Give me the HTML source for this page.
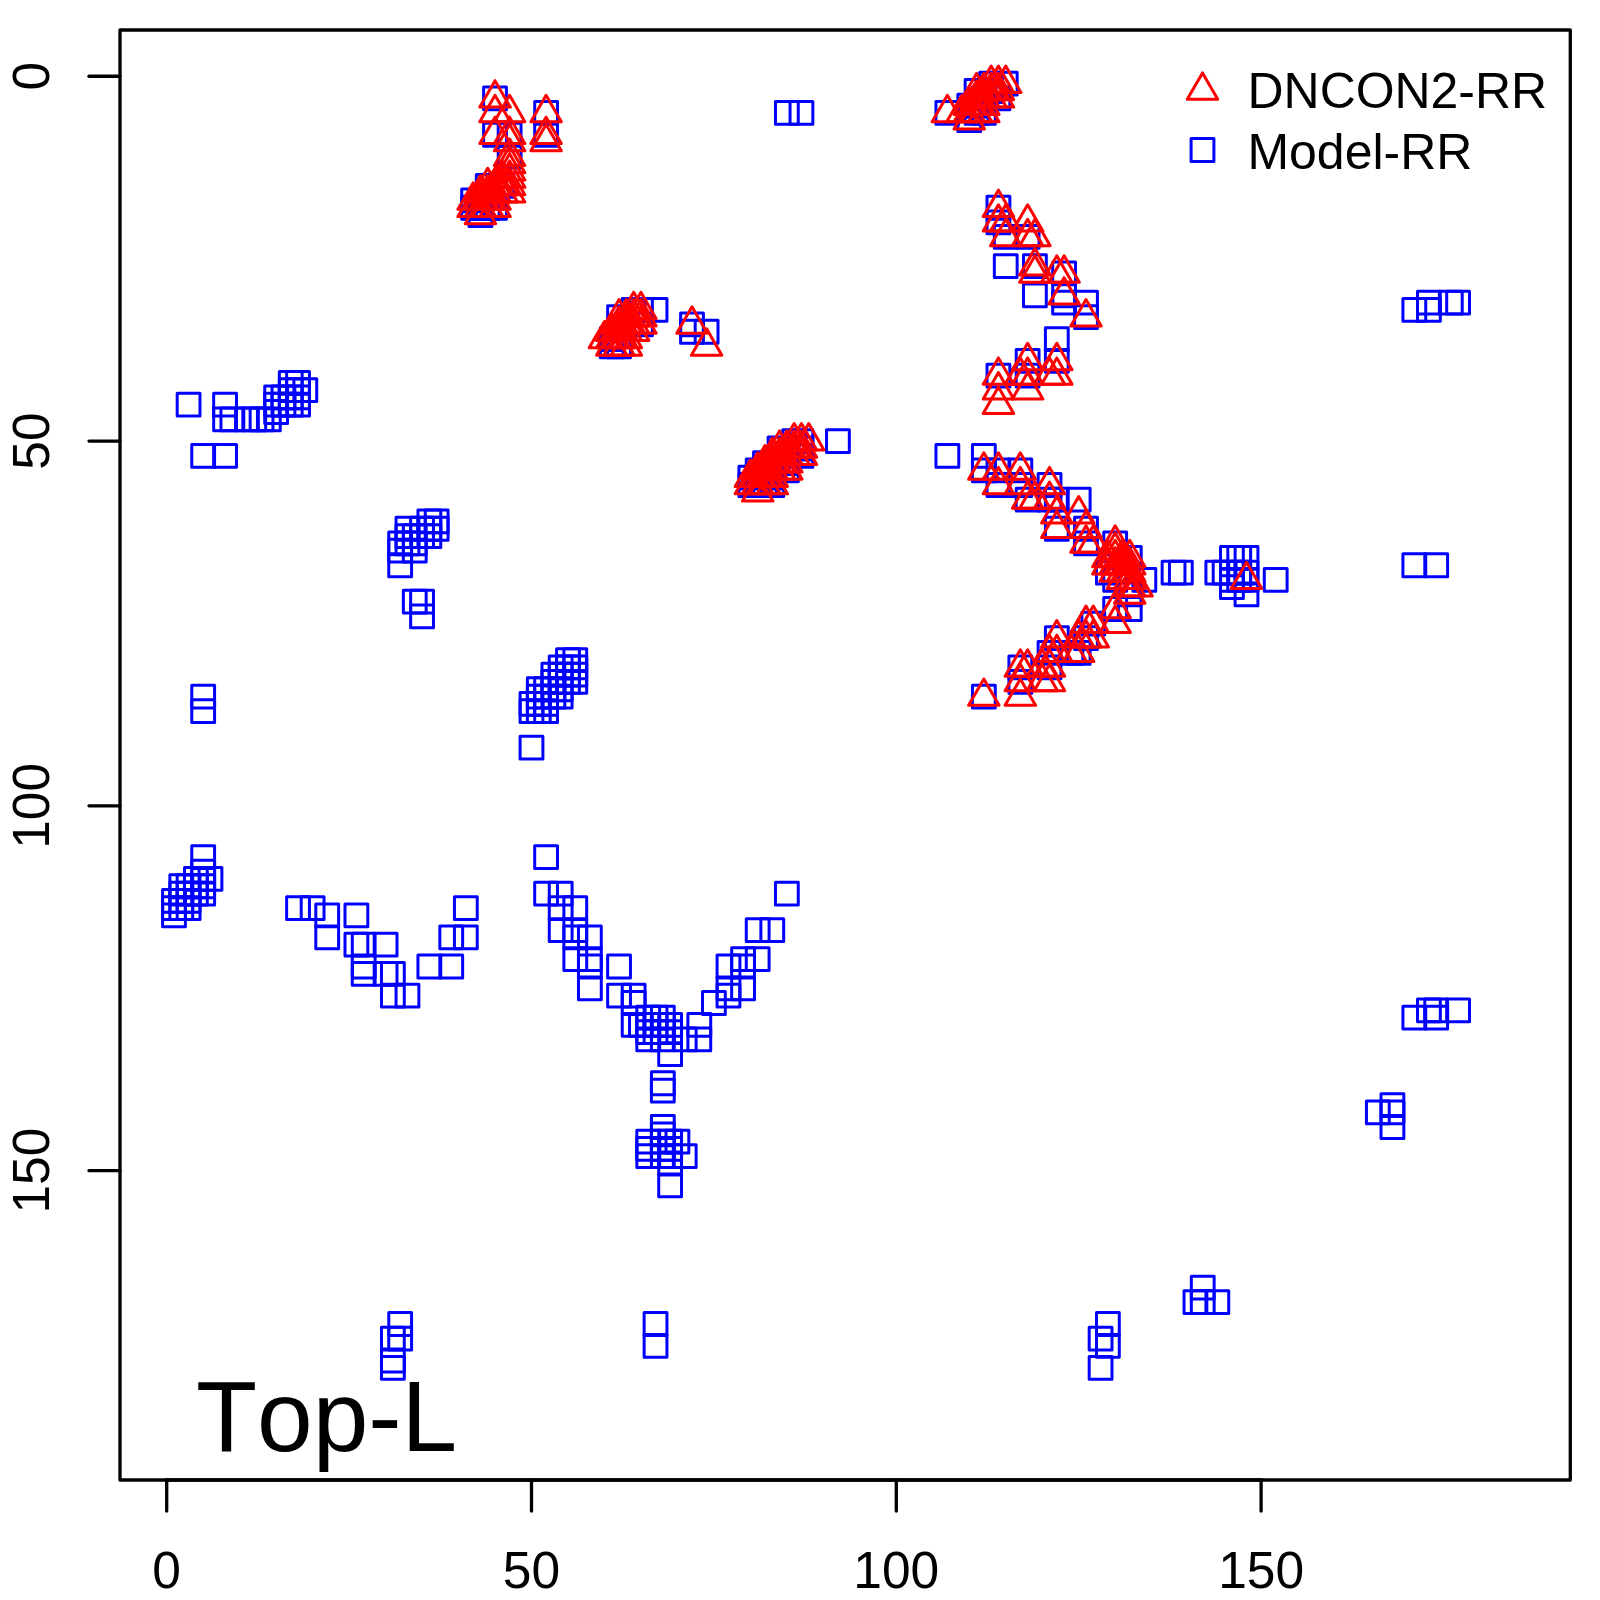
<!DOCTYPE html><html><head><meta charset="utf-8"><title>Top-L</title><style>html,body{margin:0;padding:0;background:#fff}svg{display:block}text{font-kerning:none;font-family:"Liberation Sans",sans-serif;fill:#000}</style></head><body>
<svg width="1600" height="1600" viewBox="0 0 1600 1600">
<rect width="1600" height="1600" fill="#fff"/>
<g fill="none" stroke="#0000ff" stroke-width="3.0" stroke-linejoin="round">
<rect x="979.75" y="72.30" width="22.8" height="22.8"/>
<rect x="994.34" y="72.30" width="22.8" height="22.8"/>
<rect x="965.16" y="79.59" width="22.8" height="22.8"/>
<rect x="979.75" y="79.59" width="22.8" height="22.8"/>
<rect x="483.62" y="86.89" width="22.8" height="22.8"/>
<rect x="972.45" y="86.89" width="22.8" height="22.8"/>
<rect x="987.04" y="86.89" width="22.8" height="22.8"/>
<rect x="957.86" y="94.18" width="22.8" height="22.8"/>
<rect x="965.16" y="94.18" width="22.8" height="22.8"/>
<rect x="534.69" y="101.48" width="22.8" height="22.8"/>
<rect x="775.46" y="101.48" width="22.8" height="22.8"/>
<rect x="790.05" y="101.48" width="22.8" height="22.8"/>
<rect x="935.97" y="101.48" width="22.8" height="22.8"/>
<rect x="965.16" y="101.48" width="22.8" height="22.8"/>
<rect x="972.45" y="101.48" width="22.8" height="22.8"/>
<rect x="957.86" y="108.78" width="22.8" height="22.8"/>
<rect x="483.62" y="123.37" width="22.8" height="22.8"/>
<rect x="498.21" y="123.37" width="22.8" height="22.8"/>
<rect x="534.69" y="123.37" width="22.8" height="22.8"/>
<rect x="498.21" y="145.26" width="22.8" height="22.8"/>
<rect x="476.32" y="174.44" width="22.8" height="22.8"/>
<rect x="490.92" y="174.44" width="22.8" height="22.8"/>
<rect x="461.73" y="189.03" width="22.8" height="22.8"/>
<rect x="461.73" y="196.33" width="22.8" height="22.8"/>
<rect x="469.03" y="196.33" width="22.8" height="22.8"/>
<rect x="476.32" y="196.33" width="22.8" height="22.8"/>
<rect x="483.62" y="196.33" width="22.8" height="22.8"/>
<rect x="987.04" y="196.33" width="22.8" height="22.8"/>
<rect x="469.03" y="203.62" width="22.8" height="22.8"/>
<rect x="987.04" y="210.92" width="22.8" height="22.8"/>
<rect x="994.34" y="225.51" width="22.8" height="22.8"/>
<rect x="1016.23" y="225.51" width="22.8" height="22.8"/>
<rect x="994.34" y="254.70" width="22.8" height="22.8"/>
<rect x="1023.52" y="254.70" width="22.8" height="22.8"/>
<rect x="1052.71" y="261.99" width="22.8" height="22.8"/>
<rect x="1023.52" y="283.88" width="22.8" height="22.8"/>
<rect x="1052.71" y="283.88" width="22.8" height="22.8"/>
<rect x="1052.71" y="291.18" width="22.8" height="22.8"/>
<rect x="1074.60" y="291.18" width="22.8" height="22.8"/>
<rect x="1417.51" y="291.18" width="22.8" height="22.8"/>
<rect x="1439.40" y="291.18" width="22.8" height="22.8"/>
<rect x="1446.69" y="291.18" width="22.8" height="22.8"/>
<rect x="622.24" y="298.47" width="22.8" height="22.8"/>
<rect x="629.54" y="298.47" width="22.8" height="22.8"/>
<rect x="644.13" y="298.47" width="22.8" height="22.8"/>
<rect x="1402.92" y="298.47" width="22.8" height="22.8"/>
<rect x="1417.51" y="298.47" width="22.8" height="22.8"/>
<rect x="607.65" y="305.77" width="22.8" height="22.8"/>
<rect x="1074.60" y="305.77" width="22.8" height="22.8"/>
<rect x="629.54" y="313.06" width="22.8" height="22.8"/>
<rect x="680.61" y="313.06" width="22.8" height="22.8"/>
<rect x="680.61" y="320.36" width="22.8" height="22.8"/>
<rect x="695.20" y="320.36" width="22.8" height="22.8"/>
<rect x="600.36" y="327.66" width="22.8" height="22.8"/>
<rect x="1045.41" y="327.66" width="22.8" height="22.8"/>
<rect x="600.36" y="334.95" width="22.8" height="22.8"/>
<rect x="607.65" y="334.95" width="22.8" height="22.8"/>
<rect x="1016.23" y="349.54" width="22.8" height="22.8"/>
<rect x="1045.41" y="349.54" width="22.8" height="22.8"/>
<rect x="987.04" y="364.14" width="22.8" height="22.8"/>
<rect x="1016.23" y="364.14" width="22.8" height="22.8"/>
<rect x="279.33" y="371.43" width="22.8" height="22.8"/>
<rect x="286.63" y="371.43" width="22.8" height="22.8"/>
<rect x="279.33" y="378.73" width="22.8" height="22.8"/>
<rect x="286.63" y="378.73" width="22.8" height="22.8"/>
<rect x="293.92" y="378.73" width="22.8" height="22.8"/>
<rect x="264.74" y="386.02" width="22.8" height="22.8"/>
<rect x="272.04" y="386.02" width="22.8" height="22.8"/>
<rect x="279.33" y="386.02" width="22.8" height="22.8"/>
<rect x="286.63" y="386.02" width="22.8" height="22.8"/>
<rect x="177.19" y="393.32" width="22.8" height="22.8"/>
<rect x="213.67" y="393.32" width="22.8" height="22.8"/>
<rect x="264.74" y="393.32" width="22.8" height="22.8"/>
<rect x="272.04" y="393.32" width="22.8" height="22.8"/>
<rect x="279.33" y="393.32" width="22.8" height="22.8"/>
<rect x="286.63" y="393.32" width="22.8" height="22.8"/>
<rect x="264.74" y="400.62" width="22.8" height="22.8"/>
<rect x="213.67" y="407.91" width="22.8" height="22.8"/>
<rect x="220.96" y="407.91" width="22.8" height="22.8"/>
<rect x="235.56" y="407.91" width="22.8" height="22.8"/>
<rect x="242.85" y="407.91" width="22.8" height="22.8"/>
<rect x="250.15" y="407.91" width="22.8" height="22.8"/>
<rect x="257.44" y="407.91" width="22.8" height="22.8"/>
<rect x="782.76" y="429.80" width="22.8" height="22.8"/>
<rect x="790.05" y="429.80" width="22.8" height="22.8"/>
<rect x="826.53" y="429.80" width="22.8" height="22.8"/>
<rect x="768.16" y="437.10" width="22.8" height="22.8"/>
<rect x="790.05" y="437.10" width="22.8" height="22.8"/>
<rect x="191.78" y="444.39" width="22.8" height="22.8"/>
<rect x="213.67" y="444.39" width="22.8" height="22.8"/>
<rect x="790.05" y="444.39" width="22.8" height="22.8"/>
<rect x="935.97" y="444.39" width="22.8" height="22.8"/>
<rect x="972.45" y="444.39" width="22.8" height="22.8"/>
<rect x="753.57" y="451.69" width="22.8" height="22.8"/>
<rect x="775.46" y="451.69" width="22.8" height="22.8"/>
<rect x="746.28" y="458.98" width="22.8" height="22.8"/>
<rect x="775.46" y="458.98" width="22.8" height="22.8"/>
<rect x="972.45" y="458.98" width="22.8" height="22.8"/>
<rect x="987.04" y="458.98" width="22.8" height="22.8"/>
<rect x="1008.93" y="458.98" width="22.8" height="22.8"/>
<rect x="738.98" y="466.28" width="22.8" height="22.8"/>
<rect x="760.87" y="466.28" width="22.8" height="22.8"/>
<rect x="738.98" y="473.58" width="22.8" height="22.8"/>
<rect x="746.28" y="473.58" width="22.8" height="22.8"/>
<rect x="753.57" y="473.58" width="22.8" height="22.8"/>
<rect x="760.87" y="473.58" width="22.8" height="22.8"/>
<rect x="987.04" y="473.58" width="22.8" height="22.8"/>
<rect x="1008.93" y="473.58" width="22.8" height="22.8"/>
<rect x="1038.12" y="473.58" width="22.8" height="22.8"/>
<rect x="1016.23" y="488.17" width="22.8" height="22.8"/>
<rect x="1038.12" y="488.17" width="22.8" height="22.8"/>
<rect x="1045.41" y="488.17" width="22.8" height="22.8"/>
<rect x="1067.30" y="488.17" width="22.8" height="22.8"/>
<rect x="417.96" y="510.06" width="22.8" height="22.8"/>
<rect x="425.25" y="510.06" width="22.8" height="22.8"/>
<rect x="396.07" y="517.35" width="22.8" height="22.8"/>
<rect x="410.66" y="517.35" width="22.8" height="22.8"/>
<rect x="417.96" y="517.35" width="22.8" height="22.8"/>
<rect x="425.25" y="517.35" width="22.8" height="22.8"/>
<rect x="1045.41" y="517.35" width="22.8" height="22.8"/>
<rect x="1074.60" y="517.35" width="22.8" height="22.8"/>
<rect x="396.07" y="524.65" width="22.8" height="22.8"/>
<rect x="403.36" y="524.65" width="22.8" height="22.8"/>
<rect x="410.66" y="524.65" width="22.8" height="22.8"/>
<rect x="417.96" y="524.65" width="22.8" height="22.8"/>
<rect x="388.77" y="531.94" width="22.8" height="22.8"/>
<rect x="396.07" y="531.94" width="22.8" height="22.8"/>
<rect x="403.36" y="531.94" width="22.8" height="22.8"/>
<rect x="1074.60" y="531.94" width="22.8" height="22.8"/>
<rect x="1103.78" y="531.94" width="22.8" height="22.8"/>
<rect x="388.77" y="539.24" width="22.8" height="22.8"/>
<rect x="403.36" y="539.24" width="22.8" height="22.8"/>
<rect x="1118.37" y="546.54" width="22.8" height="22.8"/>
<rect x="1220.52" y="546.54" width="22.8" height="22.8"/>
<rect x="1227.81" y="546.54" width="22.8" height="22.8"/>
<rect x="1235.11" y="546.54" width="22.8" height="22.8"/>
<rect x="388.77" y="553.83" width="22.8" height="22.8"/>
<rect x="1402.92" y="553.83" width="22.8" height="22.8"/>
<rect x="1424.80" y="553.83" width="22.8" height="22.8"/>
<rect x="1096.48" y="561.13" width="22.8" height="22.8"/>
<rect x="1162.15" y="561.13" width="22.8" height="22.8"/>
<rect x="1169.44" y="561.13" width="22.8" height="22.8"/>
<rect x="1205.92" y="561.13" width="22.8" height="22.8"/>
<rect x="1213.22" y="561.13" width="22.8" height="22.8"/>
<rect x="1220.52" y="561.13" width="22.8" height="22.8"/>
<rect x="1227.81" y="561.13" width="22.8" height="22.8"/>
<rect x="1235.11" y="561.13" width="22.8" height="22.8"/>
<rect x="1103.78" y="568.42" width="22.8" height="22.8"/>
<rect x="1132.96" y="568.42" width="22.8" height="22.8"/>
<rect x="1220.52" y="568.42" width="22.8" height="22.8"/>
<rect x="1227.81" y="568.42" width="22.8" height="22.8"/>
<rect x="1235.11" y="568.42" width="22.8" height="22.8"/>
<rect x="1264.29" y="568.42" width="22.8" height="22.8"/>
<rect x="1220.52" y="575.72" width="22.8" height="22.8"/>
<rect x="1118.37" y="583.02" width="22.8" height="22.8"/>
<rect x="1235.11" y="583.02" width="22.8" height="22.8"/>
<rect x="403.36" y="590.31" width="22.8" height="22.8"/>
<rect x="410.66" y="590.31" width="22.8" height="22.8"/>
<rect x="1103.78" y="597.61" width="22.8" height="22.8"/>
<rect x="1118.37" y="597.61" width="22.8" height="22.8"/>
<rect x="410.66" y="604.90" width="22.8" height="22.8"/>
<rect x="1081.89" y="612.20" width="22.8" height="22.8"/>
<rect x="1045.41" y="626.79" width="22.8" height="22.8"/>
<rect x="1074.60" y="626.79" width="22.8" height="22.8"/>
<rect x="1038.12" y="641.38" width="22.8" height="22.8"/>
<rect x="1060.00" y="641.38" width="22.8" height="22.8"/>
<rect x="1067.30" y="641.38" width="22.8" height="22.8"/>
<rect x="556.58" y="648.68" width="22.8" height="22.8"/>
<rect x="563.88" y="648.68" width="22.8" height="22.8"/>
<rect x="549.28" y="655.98" width="22.8" height="22.8"/>
<rect x="556.58" y="655.98" width="22.8" height="22.8"/>
<rect x="563.88" y="655.98" width="22.8" height="22.8"/>
<rect x="1008.93" y="655.98" width="22.8" height="22.8"/>
<rect x="1038.12" y="655.98" width="22.8" height="22.8"/>
<rect x="541.99" y="663.27" width="22.8" height="22.8"/>
<rect x="549.28" y="663.27" width="22.8" height="22.8"/>
<rect x="556.58" y="663.27" width="22.8" height="22.8"/>
<rect x="563.88" y="663.27" width="22.8" height="22.8"/>
<rect x="541.99" y="670.57" width="22.8" height="22.8"/>
<rect x="549.28" y="670.57" width="22.8" height="22.8"/>
<rect x="556.58" y="670.57" width="22.8" height="22.8"/>
<rect x="563.88" y="670.57" width="22.8" height="22.8"/>
<rect x="1008.93" y="670.57" width="22.8" height="22.8"/>
<rect x="527.40" y="677.86" width="22.8" height="22.8"/>
<rect x="534.69" y="677.86" width="22.8" height="22.8"/>
<rect x="541.99" y="677.86" width="22.8" height="22.8"/>
<rect x="549.28" y="677.86" width="22.8" height="22.8"/>
<rect x="191.78" y="685.16" width="22.8" height="22.8"/>
<rect x="527.40" y="685.16" width="22.8" height="22.8"/>
<rect x="534.69" y="685.16" width="22.8" height="22.8"/>
<rect x="541.99" y="685.16" width="22.8" height="22.8"/>
<rect x="549.28" y="685.16" width="22.8" height="22.8"/>
<rect x="972.45" y="685.16" width="22.8" height="22.8"/>
<rect x="520.10" y="692.46" width="22.8" height="22.8"/>
<rect x="527.40" y="692.46" width="22.8" height="22.8"/>
<rect x="534.69" y="692.46" width="22.8" height="22.8"/>
<rect x="191.78" y="699.75" width="22.8" height="22.8"/>
<rect x="520.10" y="699.75" width="22.8" height="22.8"/>
<rect x="527.40" y="699.75" width="22.8" height="22.8"/>
<rect x="534.69" y="699.75" width="22.8" height="22.8"/>
<rect x="520.10" y="736.23" width="22.8" height="22.8"/>
<rect x="191.78" y="845.67" width="22.8" height="22.8"/>
<rect x="534.69" y="845.67" width="22.8" height="22.8"/>
<rect x="191.78" y="860.26" width="22.8" height="22.8"/>
<rect x="184.48" y="867.56" width="22.8" height="22.8"/>
<rect x="191.78" y="867.56" width="22.8" height="22.8"/>
<rect x="199.08" y="867.56" width="22.8" height="22.8"/>
<rect x="169.89" y="874.86" width="22.8" height="22.8"/>
<rect x="177.19" y="874.86" width="22.8" height="22.8"/>
<rect x="184.48" y="874.86" width="22.8" height="22.8"/>
<rect x="191.78" y="874.86" width="22.8" height="22.8"/>
<rect x="169.89" y="882.15" width="22.8" height="22.8"/>
<rect x="177.19" y="882.15" width="22.8" height="22.8"/>
<rect x="184.48" y="882.15" width="22.8" height="22.8"/>
<rect x="191.78" y="882.15" width="22.8" height="22.8"/>
<rect x="534.69" y="882.15" width="22.8" height="22.8"/>
<rect x="549.28" y="882.15" width="22.8" height="22.8"/>
<rect x="775.46" y="882.15" width="22.8" height="22.8"/>
<rect x="162.60" y="889.45" width="22.8" height="22.8"/>
<rect x="169.89" y="889.45" width="22.8" height="22.8"/>
<rect x="177.19" y="889.45" width="22.8" height="22.8"/>
<rect x="162.60" y="896.74" width="22.8" height="22.8"/>
<rect x="169.89" y="896.74" width="22.8" height="22.8"/>
<rect x="177.19" y="896.74" width="22.8" height="22.8"/>
<rect x="286.63" y="896.74" width="22.8" height="22.8"/>
<rect x="301.22" y="896.74" width="22.8" height="22.8"/>
<rect x="454.44" y="896.74" width="22.8" height="22.8"/>
<rect x="549.28" y="896.74" width="22.8" height="22.8"/>
<rect x="563.88" y="896.74" width="22.8" height="22.8"/>
<rect x="162.60" y="904.04" width="22.8" height="22.8"/>
<rect x="315.81" y="904.04" width="22.8" height="22.8"/>
<rect x="345.00" y="904.04" width="22.8" height="22.8"/>
<rect x="549.28" y="918.63" width="22.8" height="22.8"/>
<rect x="563.88" y="918.63" width="22.8" height="22.8"/>
<rect x="746.28" y="918.63" width="22.8" height="22.8"/>
<rect x="760.87" y="918.63" width="22.8" height="22.8"/>
<rect x="315.81" y="925.93" width="22.8" height="22.8"/>
<rect x="439.84" y="925.93" width="22.8" height="22.8"/>
<rect x="454.44" y="925.93" width="22.8" height="22.8"/>
<rect x="563.88" y="925.93" width="22.8" height="22.8"/>
<rect x="578.47" y="925.93" width="22.8" height="22.8"/>
<rect x="345.00" y="933.22" width="22.8" height="22.8"/>
<rect x="352.29" y="933.22" width="22.8" height="22.8"/>
<rect x="374.18" y="933.22" width="22.8" height="22.8"/>
<rect x="563.88" y="947.82" width="22.8" height="22.8"/>
<rect x="578.47" y="947.82" width="22.8" height="22.8"/>
<rect x="731.68" y="947.82" width="22.8" height="22.8"/>
<rect x="746.28" y="947.82" width="22.8" height="22.8"/>
<rect x="352.29" y="955.11" width="22.8" height="22.8"/>
<rect x="417.96" y="955.11" width="22.8" height="22.8"/>
<rect x="439.84" y="955.11" width="22.8" height="22.8"/>
<rect x="578.47" y="955.11" width="22.8" height="22.8"/>
<rect x="607.65" y="955.11" width="22.8" height="22.8"/>
<rect x="717.09" y="955.11" width="22.8" height="22.8"/>
<rect x="731.68" y="955.11" width="22.8" height="22.8"/>
<rect x="352.29" y="962.41" width="22.8" height="22.8"/>
<rect x="374.18" y="962.41" width="22.8" height="22.8"/>
<rect x="381.48" y="962.41" width="22.8" height="22.8"/>
<rect x="578.47" y="977.00" width="22.8" height="22.8"/>
<rect x="717.09" y="977.00" width="22.8" height="22.8"/>
<rect x="731.68" y="977.00" width="22.8" height="22.8"/>
<rect x="381.48" y="984.30" width="22.8" height="22.8"/>
<rect x="396.07" y="984.30" width="22.8" height="22.8"/>
<rect x="607.65" y="984.30" width="22.8" height="22.8"/>
<rect x="622.24" y="984.30" width="22.8" height="22.8"/>
<rect x="717.09" y="984.30" width="22.8" height="22.8"/>
<rect x="622.24" y="991.59" width="22.8" height="22.8"/>
<rect x="702.50" y="991.59" width="22.8" height="22.8"/>
<rect x="1417.51" y="998.89" width="22.8" height="22.8"/>
<rect x="1424.80" y="998.89" width="22.8" height="22.8"/>
<rect x="1446.69" y="998.89" width="22.8" height="22.8"/>
<rect x="636.84" y="1006.18" width="22.8" height="22.8"/>
<rect x="644.13" y="1006.18" width="22.8" height="22.8"/>
<rect x="651.43" y="1006.18" width="22.8" height="22.8"/>
<rect x="1402.92" y="1006.18" width="22.8" height="22.8"/>
<rect x="1424.80" y="1006.18" width="22.8" height="22.8"/>
<rect x="622.24" y="1013.48" width="22.8" height="22.8"/>
<rect x="629.54" y="1013.48" width="22.8" height="22.8"/>
<rect x="636.84" y="1013.48" width="22.8" height="22.8"/>
<rect x="644.13" y="1013.48" width="22.8" height="22.8"/>
<rect x="651.43" y="1013.48" width="22.8" height="22.8"/>
<rect x="658.72" y="1013.48" width="22.8" height="22.8"/>
<rect x="687.91" y="1013.48" width="22.8" height="22.8"/>
<rect x="636.84" y="1020.78" width="22.8" height="22.8"/>
<rect x="644.13" y="1020.78" width="22.8" height="22.8"/>
<rect x="651.43" y="1020.78" width="22.8" height="22.8"/>
<rect x="658.72" y="1020.78" width="22.8" height="22.8"/>
<rect x="636.84" y="1028.07" width="22.8" height="22.8"/>
<rect x="651.43" y="1028.07" width="22.8" height="22.8"/>
<rect x="673.32" y="1028.07" width="22.8" height="22.8"/>
<rect x="687.91" y="1028.07" width="22.8" height="22.8"/>
<rect x="658.72" y="1042.66" width="22.8" height="22.8"/>
<rect x="651.43" y="1071.85" width="22.8" height="22.8"/>
<rect x="651.43" y="1079.14" width="22.8" height="22.8"/>
<rect x="1381.03" y="1093.74" width="22.8" height="22.8"/>
<rect x="1366.44" y="1101.03" width="22.8" height="22.8"/>
<rect x="1381.03" y="1101.03" width="22.8" height="22.8"/>
<rect x="651.43" y="1115.62" width="22.8" height="22.8"/>
<rect x="1381.03" y="1115.62" width="22.8" height="22.8"/>
<rect x="651.43" y="1122.92" width="22.8" height="22.8"/>
<rect x="636.84" y="1130.22" width="22.8" height="22.8"/>
<rect x="651.43" y="1130.22" width="22.8" height="22.8"/>
<rect x="658.72" y="1130.22" width="22.8" height="22.8"/>
<rect x="666.02" y="1130.22" width="22.8" height="22.8"/>
<rect x="636.84" y="1137.51" width="22.8" height="22.8"/>
<rect x="651.43" y="1137.51" width="22.8" height="22.8"/>
<rect x="658.72" y="1137.51" width="22.8" height="22.8"/>
<rect x="636.84" y="1144.81" width="22.8" height="22.8"/>
<rect x="651.43" y="1144.81" width="22.8" height="22.8"/>
<rect x="658.72" y="1144.81" width="22.8" height="22.8"/>
<rect x="673.32" y="1144.81" width="22.8" height="22.8"/>
<rect x="658.72" y="1152.10" width="22.8" height="22.8"/>
<rect x="658.72" y="1173.99" width="22.8" height="22.8"/>
<rect x="1191.33" y="1276.14" width="22.8" height="22.8"/>
<rect x="1184.04" y="1290.73" width="22.8" height="22.8"/>
<rect x="1191.33" y="1290.73" width="22.8" height="22.8"/>
<rect x="1205.92" y="1290.73" width="22.8" height="22.8"/>
<rect x="388.77" y="1312.62" width="22.8" height="22.8"/>
<rect x="644.13" y="1312.62" width="22.8" height="22.8"/>
<rect x="1096.48" y="1312.62" width="22.8" height="22.8"/>
<rect x="381.48" y="1327.21" width="22.8" height="22.8"/>
<rect x="388.77" y="1327.21" width="22.8" height="22.8"/>
<rect x="1089.19" y="1327.21" width="22.8" height="22.8"/>
<rect x="644.13" y="1334.50" width="22.8" height="22.8"/>
<rect x="1096.48" y="1334.50" width="22.8" height="22.8"/>
<rect x="381.48" y="1349.10" width="22.8" height="22.8"/>
<rect x="381.48" y="1356.39" width="22.8" height="22.8"/>
<rect x="1089.19" y="1356.39" width="22.8" height="22.8"/>
</g>
<g fill="none" stroke="#ff0000" stroke-width="3.0" stroke-linejoin="round">
<path d="M991.15 66.10L1006.39 92.50L975.91 92.50Z"/>
<path d="M998.44 66.10L1013.69 92.50L983.20 92.50Z"/>
<path d="M1005.74 66.10L1020.98 92.50L990.50 92.50Z"/>
<path d="M976.56 73.39L991.80 99.79L961.31 99.79Z"/>
<path d="M983.85 73.39L999.09 99.79L968.61 99.79Z"/>
<path d="M991.15 73.39L1006.39 99.79L975.91 99.79Z"/>
<path d="M998.44 73.39L1013.69 99.79L983.20 99.79Z"/>
<path d="M495.02 80.69L510.26 107.09L479.78 107.09Z"/>
<path d="M976.56 80.69L991.80 107.09L961.31 107.09Z"/>
<path d="M983.85 80.69L999.09 107.09L968.61 107.09Z"/>
<path d="M991.15 80.69L1006.39 107.09L975.91 107.09Z"/>
<path d="M998.44 80.69L1013.69 107.09L983.20 107.09Z"/>
<path d="M969.26 87.98L984.50 114.38L954.02 114.38Z"/>
<path d="M976.56 87.98L991.80 114.38L961.31 114.38Z"/>
<path d="M983.85 87.98L999.09 114.38L968.61 114.38Z"/>
<path d="M495.02 95.28L510.26 121.68L479.78 121.68Z"/>
<path d="M509.61 95.28L524.85 121.68L494.37 121.68Z"/>
<path d="M546.09 95.28L561.33 121.68L530.85 121.68Z"/>
<path d="M947.37 95.28L962.61 121.68L932.13 121.68Z"/>
<path d="M961.96 95.28L977.21 121.68L946.72 121.68Z"/>
<path d="M969.26 95.28L984.50 121.68L954.02 121.68Z"/>
<path d="M976.56 95.28L991.80 121.68L961.31 121.68Z"/>
<path d="M983.85 95.28L999.09 121.68L968.61 121.68Z"/>
<path d="M969.26 102.58L984.50 128.98L954.02 128.98Z"/>
<path d="M495.02 117.17L510.26 143.57L479.78 143.57Z"/>
<path d="M509.61 117.17L524.85 143.57L494.37 143.57Z"/>
<path d="M546.09 117.17L561.33 143.57L530.85 143.57Z"/>
<path d="M509.61 124.46L524.85 150.86L494.37 150.86Z"/>
<path d="M546.09 124.46L561.33 150.86L530.85 150.86Z"/>
<path d="M509.61 139.06L524.85 165.46L494.37 165.46Z"/>
<path d="M509.61 146.35L524.85 172.75L494.37 172.75Z"/>
<path d="M509.61 153.65L524.85 180.05L494.37 180.05Z"/>
<path d="M502.32 160.94L517.56 187.34L487.07 187.34Z"/>
<path d="M509.61 160.94L524.85 187.34L494.37 187.34Z"/>
<path d="M487.72 168.24L502.97 194.64L472.48 194.64Z"/>
<path d="M495.02 168.24L510.26 194.64L479.78 194.64Z"/>
<path d="M502.32 168.24L517.56 194.64L487.07 194.64Z"/>
<path d="M509.61 168.24L524.85 194.64L494.37 194.64Z"/>
<path d="M480.43 175.54L495.67 201.94L465.19 201.94Z"/>
<path d="M487.72 175.54L502.97 201.94L472.48 201.94Z"/>
<path d="M495.02 175.54L510.26 201.94L479.78 201.94Z"/>
<path d="M502.32 175.54L517.56 201.94L487.07 201.94Z"/>
<path d="M509.61 175.54L524.85 201.94L494.37 201.94Z"/>
<path d="M473.13 182.83L488.37 209.23L457.89 209.23Z"/>
<path d="M480.43 182.83L495.67 209.23L465.19 209.23Z"/>
<path d="M487.72 182.83L502.97 209.23L472.48 209.23Z"/>
<path d="M495.02 182.83L510.26 209.23L479.78 209.23Z"/>
<path d="M473.13 190.13L488.37 216.53L457.89 216.53Z"/>
<path d="M480.43 190.13L495.67 216.53L465.19 216.53Z"/>
<path d="M487.72 190.13L502.97 216.53L472.48 216.53Z"/>
<path d="M495.02 190.13L510.26 216.53L479.78 216.53Z"/>
<path d="M998.44 190.13L1013.69 216.53L983.20 216.53Z"/>
<path d="M480.43 197.42L495.67 223.82L465.19 223.82Z"/>
<path d="M998.44 204.72L1013.69 231.12L983.20 231.12Z"/>
<path d="M1005.74 204.72L1020.98 231.12L990.50 231.12Z"/>
<path d="M1027.63 204.72L1042.87 231.12L1012.39 231.12Z"/>
<path d="M1005.74 219.31L1020.98 245.71L990.50 245.71Z"/>
<path d="M1027.63 219.31L1042.87 245.71L1012.39 245.71Z"/>
<path d="M1034.92 219.31L1050.17 245.71L1019.68 245.71Z"/>
<path d="M1034.92 248.50L1050.17 274.90L1019.68 274.90Z"/>
<path d="M1034.92 255.79L1050.17 282.19L1019.68 282.19Z"/>
<path d="M1056.81 255.79L1072.05 282.19L1041.57 282.19Z"/>
<path d="M1064.11 255.79L1079.35 282.19L1048.87 282.19Z"/>
<path d="M1064.11 277.68L1079.35 304.08L1048.87 304.08Z"/>
<path d="M633.64 292.27L648.89 318.67L618.40 318.67Z"/>
<path d="M640.94 292.27L656.18 318.67L625.70 318.67Z"/>
<path d="M619.05 299.57L634.29 325.97L603.81 325.97Z"/>
<path d="M626.35 299.57L641.59 325.97L611.11 325.97Z"/>
<path d="M633.64 299.57L648.89 325.97L618.40 325.97Z"/>
<path d="M640.94 299.57L656.18 325.97L625.70 325.97Z"/>
<path d="M1086.00 299.57L1101.24 325.97L1070.75 325.97Z"/>
<path d="M619.05 306.86L634.29 333.26L603.81 333.26Z"/>
<path d="M626.35 306.86L641.59 333.26L611.11 333.26Z"/>
<path d="M633.64 306.86L648.89 333.26L618.40 333.26Z"/>
<path d="M640.94 306.86L656.18 333.26L625.70 333.26Z"/>
<path d="M692.01 306.86L707.25 333.26L676.77 333.26Z"/>
<path d="M611.76 314.16L627.00 340.56L596.51 340.56Z"/>
<path d="M619.05 314.16L634.29 340.56L603.81 340.56Z"/>
<path d="M626.35 314.16L641.59 340.56L611.11 340.56Z"/>
<path d="M633.64 314.16L648.89 340.56L618.40 340.56Z"/>
<path d="M604.46 321.46L619.70 347.86L589.22 347.86Z"/>
<path d="M611.76 321.46L627.00 347.86L596.51 347.86Z"/>
<path d="M619.05 321.46L634.29 347.86L603.81 347.86Z"/>
<path d="M626.35 321.46L641.59 347.86L611.11 347.86Z"/>
<path d="M611.76 328.75L627.00 355.15L596.51 355.15Z"/>
<path d="M619.05 328.75L634.29 355.15L603.81 355.15Z"/>
<path d="M626.35 328.75L641.59 355.15L611.11 355.15Z"/>
<path d="M706.60 328.75L721.85 355.15L691.36 355.15Z"/>
<path d="M1027.63 343.34L1042.87 369.74L1012.39 369.74Z"/>
<path d="M1056.81 343.34L1072.05 369.74L1041.57 369.74Z"/>
<path d="M998.44 357.94L1013.69 384.34L983.20 384.34Z"/>
<path d="M1020.33 357.94L1035.57 384.34L1005.09 384.34Z"/>
<path d="M1027.63 357.94L1042.87 384.34L1012.39 384.34Z"/>
<path d="M1049.52 357.94L1064.76 384.34L1034.27 384.34Z"/>
<path d="M1056.81 357.94L1072.05 384.34L1041.57 384.34Z"/>
<path d="M998.44 372.53L1013.69 398.93L983.20 398.93Z"/>
<path d="M1027.63 372.53L1042.87 398.93L1012.39 398.93Z"/>
<path d="M998.44 387.12L1013.69 413.52L983.20 413.52Z"/>
<path d="M794.16 423.60L809.40 450.00L778.91 450.00Z"/>
<path d="M801.45 423.60L816.69 450.00L786.21 450.00Z"/>
<path d="M808.75 423.60L823.99 450.00L793.51 450.00Z"/>
<path d="M779.56 430.90L794.81 457.30L764.32 457.30Z"/>
<path d="M786.86 430.90L802.10 457.30L771.62 457.30Z"/>
<path d="M794.16 430.90L809.40 457.30L778.91 457.30Z"/>
<path d="M801.45 430.90L816.69 457.30L786.21 457.30Z"/>
<path d="M772.27 438.19L787.51 464.59L757.03 464.59Z"/>
<path d="M779.56 438.19L794.81 464.59L764.32 464.59Z"/>
<path d="M786.86 438.19L802.10 464.59L771.62 464.59Z"/>
<path d="M794.16 438.19L809.40 464.59L778.91 464.59Z"/>
<path d="M801.45 438.19L816.69 464.59L786.21 464.59Z"/>
<path d="M764.97 445.49L780.21 471.89L749.73 471.89Z"/>
<path d="M772.27 445.49L787.51 471.89L757.03 471.89Z"/>
<path d="M779.56 445.49L794.81 471.89L764.32 471.89Z"/>
<path d="M786.86 445.49L802.10 471.89L771.62 471.89Z"/>
<path d="M757.68 452.78L772.92 479.18L742.43 479.18Z"/>
<path d="M764.97 452.78L780.21 479.18L749.73 479.18Z"/>
<path d="M772.27 452.78L787.51 479.18L757.03 479.18Z"/>
<path d="M779.56 452.78L794.81 479.18L764.32 479.18Z"/>
<path d="M786.86 452.78L802.10 479.18L771.62 479.18Z"/>
<path d="M983.85 452.78L999.09 479.18L968.61 479.18Z"/>
<path d="M998.44 452.78L1013.69 479.18L983.20 479.18Z"/>
<path d="M1020.33 452.78L1035.57 479.18L1005.09 479.18Z"/>
<path d="M750.38 460.08L765.62 486.48L735.14 486.48Z"/>
<path d="M757.68 460.08L772.92 486.48L742.43 486.48Z"/>
<path d="M764.97 460.08L780.21 486.48L749.73 486.48Z"/>
<path d="M772.27 460.08L787.51 486.48L757.03 486.48Z"/>
<path d="M750.38 467.38L765.62 493.78L735.14 493.78Z"/>
<path d="M757.68 467.38L772.92 493.78L742.43 493.78Z"/>
<path d="M764.97 467.38L780.21 493.78L749.73 493.78Z"/>
<path d="M772.27 467.38L787.51 493.78L757.03 493.78Z"/>
<path d="M998.44 467.38L1013.69 493.78L983.20 493.78Z"/>
<path d="M1020.33 467.38L1035.57 493.78L1005.09 493.78Z"/>
<path d="M1049.52 467.38L1064.76 493.78L1034.27 493.78Z"/>
<path d="M757.68 474.67L772.92 501.07L742.43 501.07Z"/>
<path d="M1027.63 481.97L1042.87 508.37L1012.39 508.37Z"/>
<path d="M1034.92 481.97L1050.17 508.37L1019.68 508.37Z"/>
<path d="M1049.52 481.97L1064.76 508.37L1034.27 508.37Z"/>
<path d="M1056.81 496.56L1072.05 522.96L1041.57 522.96Z"/>
<path d="M1078.70 496.56L1093.94 522.96L1063.46 522.96Z"/>
<path d="M1056.81 511.15L1072.05 537.55L1041.57 537.55Z"/>
<path d="M1086.00 511.15L1101.24 537.55L1070.75 537.55Z"/>
<path d="M1086.00 525.74L1101.24 552.14L1070.75 552.14Z"/>
<path d="M1093.29 525.74L1108.53 552.14L1078.05 552.14Z"/>
<path d="M1115.18 525.74L1130.42 552.14L1099.94 552.14Z"/>
<path d="M1115.18 533.04L1130.42 559.44L1099.94 559.44Z"/>
<path d="M1107.88 540.34L1123.13 566.74L1092.64 566.74Z"/>
<path d="M1115.18 540.34L1130.42 566.74L1099.94 566.74Z"/>
<path d="M1122.48 540.34L1137.72 566.74L1107.23 566.74Z"/>
<path d="M1129.77 540.34L1145.01 566.74L1114.53 566.74Z"/>
<path d="M1107.88 547.63L1123.13 574.03L1092.64 574.03Z"/>
<path d="M1115.18 547.63L1130.42 574.03L1099.94 574.03Z"/>
<path d="M1122.48 547.63L1137.72 574.03L1107.23 574.03Z"/>
<path d="M1129.77 547.63L1145.01 574.03L1114.53 574.03Z"/>
<path d="M1115.18 554.93L1130.42 581.33L1099.94 581.33Z"/>
<path d="M1122.48 554.93L1137.72 581.33L1107.23 581.33Z"/>
<path d="M1129.77 554.93L1145.01 581.33L1114.53 581.33Z"/>
<path d="M1122.48 562.22L1137.72 588.62L1107.23 588.62Z"/>
<path d="M1129.77 562.22L1145.01 588.62L1114.53 588.62Z"/>
<path d="M1246.51 562.22L1261.75 588.62L1231.27 588.62Z"/>
<path d="M1129.77 569.52L1145.01 595.92L1114.53 595.92Z"/>
<path d="M1137.07 569.52L1152.31 595.92L1121.83 595.92Z"/>
<path d="M1129.77 576.82L1145.01 603.22L1114.53 603.22Z"/>
<path d="M1115.18 591.41L1130.42 617.81L1099.94 617.81Z"/>
<path d="M1086.00 606.00L1101.24 632.40L1070.75 632.40Z"/>
<path d="M1093.29 606.00L1108.53 632.40L1078.05 632.40Z"/>
<path d="M1115.18 606.00L1130.42 632.40L1099.94 632.40Z"/>
<path d="M1056.81 620.59L1072.05 646.99L1041.57 646.99Z"/>
<path d="M1078.70 620.59L1093.94 646.99L1063.46 646.99Z"/>
<path d="M1086.00 620.59L1101.24 646.99L1070.75 646.99Z"/>
<path d="M1093.29 620.59L1108.53 646.99L1078.05 646.99Z"/>
<path d="M1049.52 635.18L1064.76 661.58L1034.27 661.58Z"/>
<path d="M1056.81 635.18L1072.05 661.58L1041.57 661.58Z"/>
<path d="M1071.40 635.18L1086.65 661.58L1056.16 661.58Z"/>
<path d="M1078.70 635.18L1093.94 661.58L1063.46 661.58Z"/>
<path d="M1020.33 649.78L1035.57 676.18L1005.09 676.18Z"/>
<path d="M1027.63 649.78L1042.87 676.18L1012.39 676.18Z"/>
<path d="M1042.22 649.78L1057.46 676.18L1026.98 676.18Z"/>
<path d="M1049.52 649.78L1064.76 676.18L1034.27 676.18Z"/>
<path d="M1020.33 664.37L1035.57 690.77L1005.09 690.77Z"/>
<path d="M1042.22 664.37L1057.46 690.77L1026.98 690.77Z"/>
<path d="M1049.52 664.37L1064.76 690.77L1034.27 690.77Z"/>
<path d="M983.85 678.96L999.09 705.36L968.61 705.36Z"/>
<path d="M1020.33 678.96L1035.57 705.36L1005.09 705.36Z"/>
</g>
<g fill="none" stroke-width="3.0" stroke-linejoin="round"><g stroke="#ff0000"><path d="M1202.50 72.90L1217.74 99.30L1187.26 99.30Z"/></g><rect x="1191.10" y="138.60" width="22.8" height="22.8" stroke="#0000ff"/></g>
<text x="1247.5" y="107.8" font-size="49.95">DNCON2-RR</text>
<text x="1247.5" y="168.8" font-size="49.95">Model-RR</text>
<g fill="none" stroke="#000" stroke-width="3.3" stroke-linecap="round" stroke-linejoin="round">
<rect x="120" y="30" width="1450.3" height="1450"/>
<path d="M166.70 1480H1261.10"/>
<path d="M166.70 1480V1511"/>
<path d="M120 76.25H89"/>
<path d="M531.50 1480V1511"/>
<path d="M120 441.05H89"/>
<path d="M896.30 1480V1511"/>
<path d="M120 805.85H89"/>
<path d="M1261.10 1480V1511"/>
<path d="M120 1170.65H89"/>
</g>
<text x="166.70" y="1588.3" font-size="51.5" text-anchor="middle">0</text>
<text transform="translate(48.8 76.25) rotate(-90)" font-size="51.5" text-anchor="middle">0</text>
<text x="531.50" y="1588.3" font-size="51.5" text-anchor="middle">50</text>
<text transform="translate(48.8 441.05) rotate(-90)" font-size="51.5" text-anchor="middle">50</text>
<text x="896.30" y="1588.3" font-size="51.5" text-anchor="middle">100</text>
<text transform="translate(48.8 805.85) rotate(-90)" font-size="51.5" text-anchor="middle">100</text>
<text x="1261.10" y="1588.3" font-size="51.5" text-anchor="middle">150</text>
<text transform="translate(48.8 1170.65) rotate(-90)" font-size="51.5" text-anchor="middle">150</text>
<text x="196" y="1451" font-size="100">Top-L</text>
</svg></body></html>
